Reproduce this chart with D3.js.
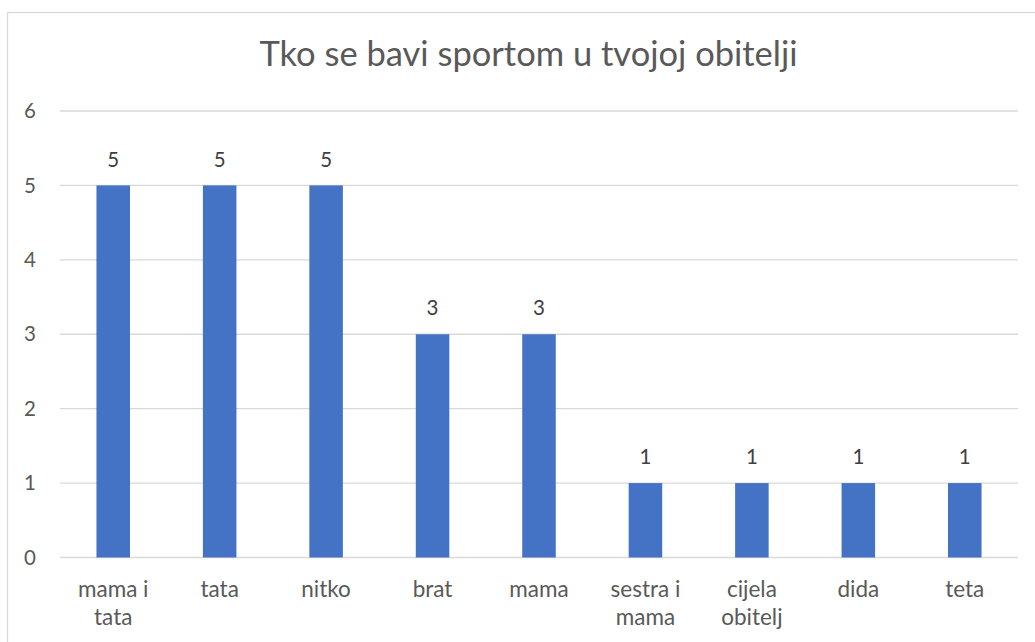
<!DOCTYPE html>
<html>
<head>
<meta charset="utf-8">
<script src="https://cdn.jsdelivr.net/npm/d3@7"></script>
<style>
  html, body { margin: 0; padding: 0; background: #fff; }
  svg { display: block; font-family: Lato, "Open Sans", sans-serif; }
</style>
</head>
<body>
<svg id="chart" width="1035" height="642"></svg>
<script>
// chart data
const title = 'Tko se bavi sportom u tvojoj obitelji';
const categories = [
  ['mama i', 'tata'],
  ['tata'],
  ['nitko'],
  ['brat'],
  ['mama'],
  ['sestra i', 'mama'],
  ['cijela', 'obitelj'],
  ['dida'],
  ['teta'],
];
const values = [5, 5, 5, 3, 3, 1, 1, 1, 1];
const yTicks = [0, 1, 2, 3, 4, 5, 6];

const svg = d3.select('#chart');
const margin = { top: 111, right: 17, bottom: 84.5, left: 60 };
const width = +svg.attr('width');
const height = +svg.attr('height');

// chart frame
svg.append('rect')
  .attr('x', 7.5).attr('y', 12.5)
  .attr('width', 1045).attr('height', 700)
  .attr('fill', '#fff')
  .attr('stroke', '#d9d9d9')
  .attr('stroke-width', 1.3);

const labels = categories.map(c => c.join(' '));

const x = d3.scaleBand()
  .domain(labels)
  .range([margin.left, width - margin.right])
  .paddingInner(0.685)
  .paddingOuter(0.3425);

const y = d3.scaleLinear()
  .domain([0, 6])
  .range([height - margin.bottom, margin.top]);

// gridlines
svg.append('g')
  .selectAll('line')
  .data(yTicks)
  .join('line')
  .attr('x1', margin.left)
  .attr('x2', width - margin.right)
  .attr('y1', d => y(d))
  .attr('y2', d => y(d))
  .attr('stroke', '#d9d9d9')
  .attr('stroke-width', 1.3);

// y tick labels
svg.append('g')
  .selectAll('text')
  .data(yTicks)
  .join('text')
  .attr('x', 36)
  .attr('y', d => y(d))
  .attr('dy', '0.35em')
  .attr('text-anchor', 'end')
  .attr('fill', '#595959')
  .attr('font-size', 20.5)
  .text(d => d);

// bars
svg.append('g')
  .selectAll('rect')
  .data(values)
  .join('rect')
  .attr('x', (d, i) => x(labels[i]))
  .attr('width', x.bandwidth())
  .attr('y', d => y(d))
  .attr('height', d => y(0) - y(d))
  .attr('fill', '#4472c4');

// data labels
svg.append('g')
  .selectAll('text')
  .data(values)
  .join('text')
  .attr('x', (d, i) => x(labels[i]) + x.bandwidth() / 2)
  .attr('y', d => y(d) - 26)
  .attr('dy', '0.35em')
  .attr('text-anchor', 'middle')
  .attr('fill', '#404040')
  .attr('font-size', 20.5)
  .text(d => d);

// category labels
const cat = svg.append('g')
  .selectAll('text')
  .data(categories)
  .join('text')
  .attr('x', (d, i) => x(labels[i]) + x.bandwidth() / 2)
  .attr('y', 597)
  .attr('text-anchor', 'middle')
  .attr('fill', '#595959')
  .attr('font-size', 22.5);

cat.selectAll('tspan')
  .data(d => d)
  .join('tspan')
  .attr('x', function () { return d3.select(this.parentNode).attr('x'); })
  .attr('dy', (d, i) => i === 0 ? 0 : 28)
  .text(d => d);

// title
svg.append('text')
  .attr('x', 528.5)
  .attr('y', 66)
  .attr('text-anchor', 'middle')
  .attr('fill', '#595959')
  .attr('font-size', 34.5)
  .text(title);
</script>
</body>
</html>
